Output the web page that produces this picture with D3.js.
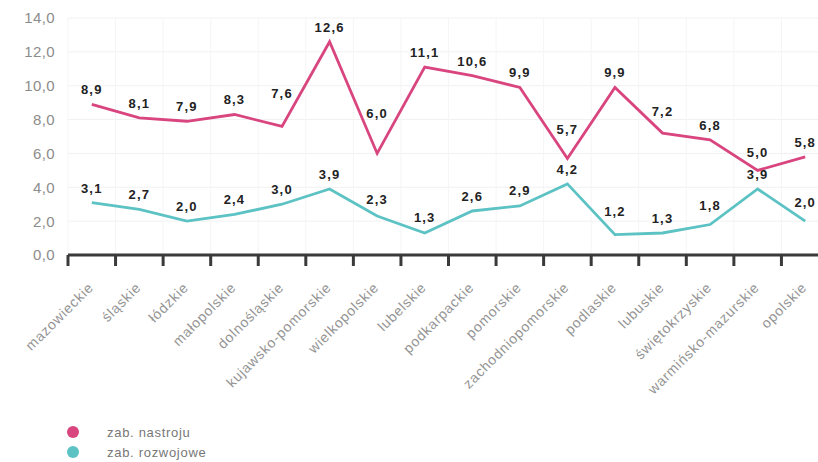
<!DOCTYPE html>
<html>
<head>
<meta charset="utf-8">
<script src="https://cdn.jsdelivr.net/npm/d3@7"></script>
<style>
  html, body { margin: 0; padding: 0; background: #fff; }
  svg { display: block; }
</style>
</head>
<body>
<svg id="chart" width="818" height="462"></svg>
<script>
// Regions (voivodeships) along the x axis
const regions = [
  "mazowieckie", "śląskie", "łódzkie", "małopolskie", "dolnośląskie",
  "kujawsko-pomorskie", "wielkopolskie", "lubelskie", "podkarpackie",
  "pomorskie", "zachodniopomorskie", "podlaskie", "lubuskie",
  "świętokrzyskie", "warmińsko-mazurskie", "opolskie"
];

// Series values
const nastroju = [8.9, 8.1, 7.9, 8.3, 7.6, 12.6, 6.0, 11.1, 10.6, 9.9, 5.7, 9.9, 7.2, 6.8, 5.0, 5.8];
const rozwojowe = [3.1, 2.7, 2.0, 2.4, 3.0, 3.9, 2.3, 1.3, 2.6, 2.9, 4.2, 1.2, 1.3, 1.8, 3.9, 2.0];

// Y axis ticks
const yTicks = [0, 2, 4, 6, 8, 10, 12, 14];

const seriesNames = ["zab. nastroju", "zab. rozwojowe"];
const seriesColors = ["#d9457f", "#5cc2c4"];

const svg = d3.select("#chart");
const fontFamily = "'Liberation Sans', Arial, sans-serif";
const fmt = v => d3.format(".1f")(v).replace(".", ",");

const x = d3.scaleBand().domain(regions).range([68, 829]).padding(0);
const y = d3.scaleLinear().domain([0, 14]).range([255, 18]);
const cx = d => x(d) + x.bandwidth() / 2;

// Faint grid
const grid = svg.append("g");
grid.selectAll("line.h").data(yTicks.slice(1)).join("line")
  .attr("x1", 68).attr("x2", 818)
  .attr("y1", d => y(d)).attr("y2", d => y(d))
  .attr("stroke", "#f1f1f1").attr("stroke-width", 1);
grid.selectAll("line.v").data(regions).join("line")
  .attr("x1", d => x(d)).attr("x2", d => x(d))
  .attr("y1", y(14)).attr("y2", y(0))
  .attr("stroke", "#f5f5f5").attr("stroke-width", 1);

// Y axis labels
svg.append("g").selectAll("text").data(yTicks).join("text")
  .attr("x", 55).attr("y", d => y(d)).attr("dy", "0.36em")
  .attr("text-anchor", "end")
  .attr("font-family", fontFamily).attr("font-size", 15)
  .attr("letter-spacing", 0.4)
  .attr("fill", "#8c8c8c")
  .text(fmt);

// X axis with ticks at band boundaries
const xAxis = svg.append("g");
xAxis.append("line")
  .attr("x1", 68).attr("x2", 830)
  .attr("y1", y(0)).attr("y2", y(0))
  .attr("stroke", "#3a3a3a").attr("stroke-width", 3);
xAxis.selectAll("line.tick").data(regions).join("line")
  .attr("class", "tick")
  .attr("x1", d => x(d)).attr("x2", d => x(d))
  .attr("y1", y(0)).attr("y2", y(0) + 11)
  .attr("stroke", "#3a3a3a").attr("stroke-width", 3);
xAxis.selectAll("text").data(regions).join("text")
  .attr("transform", d => `translate(${cx(d) - 1},${y(0) + 30}) rotate(-45)`)
  .attr("text-anchor", "end").attr("dy", "0.35em")
  .attr("font-family", fontFamily).attr("font-size", 14)
  .attr("letter-spacing", 0.8)
  .attr("fill", "#949494")
  .text(d => d);

// Height of the polyline at a given x (for keeping labels clear of their own line)
function lineYAt(vals, px) {
  const xs = regions.map(cx);
  if (px <= xs[0]) return y(vals[0]);
  if (px >= xs[xs.length - 1]) return y(vals[vals.length - 1]);
  const i = d3.bisectRight(xs, px) - 1;
  const t = (px - xs[i]) / (xs[i + 1] - xs[i]);
  return y(vals[i]) + t * (y(vals[i + 1]) - y(vals[i]));
}

// Lines and value labels
const line = d3.line().x((d, i) => cx(regions[i])).y(d => y(d));
[nastroju, rozwojowe].forEach((vals, si) => {
  svg.append("path").datum(vals)
    .attr("d", line)
    .attr("fill", "none")
    .attr("stroke", seriesColors[si])
    .attr("stroke-width", 2.8)
    .attr("stroke-linejoin", "miter");
  svg.append("g").selectAll("text").data(vals).join("text")
    .attr("x", (d, i) => cx(regions[i]))
    .attr("y", (d, i) => {
      const px = cx(regions[i]);
      const top = Math.min(y(d) - 4, lineYAt(vals, px - 13), lineYAt(vals, px + 13));
      return Math.min(top - 5, y(d) - 10);
    })
    .attr("text-anchor", "middle")
    .attr("font-family", fontFamily).attr("font-size", 13)
    .attr("font-weight", "bold")
    .attr("letter-spacing", 1.2)
    .attr("fill", "#222")
    .text(fmt);
});

// Legend
const legend = svg.append("g").selectAll("g").data(seriesNames).join("g")
  .attr("transform", (d, i) => `translate(73,${432 + i * 20})`);
legend.append("circle").attr("r", 6).attr("fill", (d, i) => seriesColors[i]);
legend.append("text")
  .attr("x", 34).attr("dy", "0.35em")
  .attr("font-family", fontFamily).attr("font-size", 13)
  .attr("letter-spacing", 0.7)
  .attr("fill", "#777")
  .text(d => d);
</script>
</body>
</html>
